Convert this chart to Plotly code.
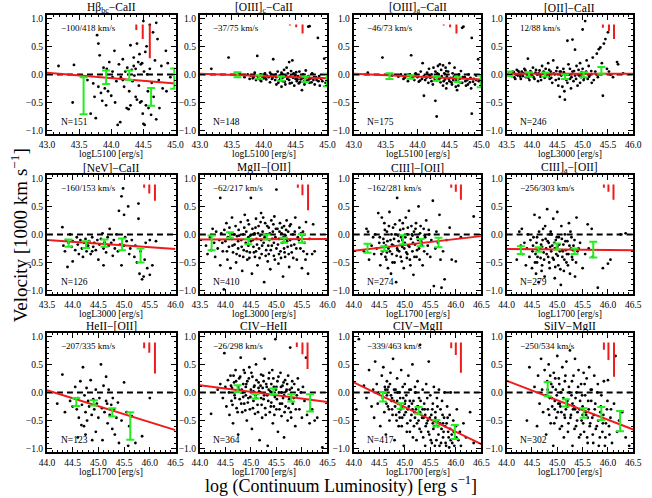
import plotly.graph_objects as go

# ---------------- data ----------------
titles = ["Hβ<sub>bc</sub>−CaII", "[OIII]<sub>c</sub>−CaII", "[OIII]<sub>a</sub>−CaII", "[OII]−CaII",
          "[NeV]−CaII", "MgII−[OII]", "CIII]−[OII]", "CIII]<sub>a</sub>−[OII]",
          "HeII−[OII]", "CIV−HeII", "CIV−MgII", "SiIV−MgII"]
xlabels = ["logL5100 [erg/s]"] * 3 + ["logL3000 [erg/s]"] * 3 + ["logL1700 [erg/s]"] * 6
stats = ["−100/418 km/s", "−37/75 km/s", "−46/73 km/s", "12/88 km/s",
         "−160/153 km/s", "−62/217 km/s", "−162/281 km/s", "−256/303 km/s",
         "−207/335 km/s", "−26/298 km/s", "−339/463 km/s", "−250/534 km/s"]
nobj = [151, 148, 175, 246, 126, 410, 274, 279, 123, 364, 417, 302]
xmin = [43.0, 43.0, 43.0, 43.5, 43.5, 43.5, 44.0, 44.0, 44.0, 44.0, 44.0, 44.0]
xmax = [45.0, 45.0, 45.0, 46.0, 46.0, 46.0, 46.5, 46.5, 46.5, 46.5, 46.5, 46.5]

# fitted line: value at left and right edge of each panel
fit_left = [0.03, 0.01, 0.01, 0.01, -0.10, -0.09, -0.29, -0.26, 0.04, 0.13, 0.18, 0.21]
fit_right = [-0.16, -0.07, -0.09, 0.01, -0.26, -0.08, -0.03, -0.28, -0.67, -0.17, -0.92, -0.66]

# binned means (green): x, y, half error
bin_x = [[43.57, 43.92, 44.28, 44.62, 44.98],
         [43.59, 43.93, 44.27, 44.65, 44.99],
         [43.56, 43.89, 44.30, 44.63, 44.99],
         [43.56, 43.94, 44.26, 44.65, 45.02, 45.37],
         [43.92, 44.26, 44.62, 44.96, 45.32],
         [43.73, 44.09, 44.45, 44.81, 45.15, 45.50],
         [44.27, 44.60, 44.96, 45.31, 45.66],
         [44.28, 44.63, 44.99, 45.34, 45.71],
         [44.57, 44.91, 45.27, 45.62],
         [44.74, 45.09, 45.44, 45.79, 46.16],
         [44.57, 44.92, 45.27, 45.62, 45.98],
         [44.81, 45.17, 45.52, 45.87, 46.24]]
bin_y = [[-0.38, -0.05, -0.015, -0.40, -0.075],
         [-0.005, -0.045, -0.075, -0.085, -0.10],
         [-0.03, -0.045, -0.075, -0.09, -0.125],
         [0.01, 0.00, 0.00, -0.04, -0.005, 0.07],
         [-0.155, -0.18, -0.155, -0.175, -0.375],
         [-0.15, -0.01, -0.125, -0.045, -0.105, -0.07],
         [-0.245, -0.25, -0.095, -0.145, -0.145],
         [-0.28, -0.27, -0.215, -0.30, -0.27],
         [-0.17, -0.185, -0.355, -0.595],
         [0.07, -0.065, 0.02, -0.095, -0.185],
         [-0.075, -0.24, -0.32, -0.545, -0.705],
         [0.06, -0.185, -0.365, -0.375, -0.51]]
bin_e = [[0.33, 0.12, 0.085, 0.16, 0.18],
         [0.045, 0.03, 0.04, 0.05, 0.11],
         [0.05, 0.03, 0.04, 0.045, 0.105],
         [0.04, 0.04, 0.035, 0.04, 0.045, 0.06],
         [0.065, 0.06, 0.065, 0.105, 0.125],
         [0.13, 0.05, 0.05, 0.045, 0.045, 0.08],
         [0.08, 0.04, 0.08, 0.065, 0.085],
         [0.07, 0.04, 0.055, 0.05, 0.14],
         [0.07, 0.045, 0.075, 0.245],
         [0.06, 0.04, 0.05, 0.065, 0.155],
         [0.085, 0.05, 0.06, 0.055, 0.125],
         [0.125, 0.065, 0.085, 0.115, 0.18]]

# red uncertainty bars at top right: x positions and lengths (hanging from y=0.89)
ebar_top = 0.89
ebar_x = [[44.39, 44.49, 44.60], [44.41, 44.51, 44.61], [44.41, 44.51, 44.61], [45.40, 45.52, 45.62],
          [45.39, 45.49, 45.60], [45.42, 45.51, 45.62], [45.91, 46.00, 46.10], [45.92, 46.01, 46.11],
          [45.89, 45.99, 46.10], [45.90, 46.01, 46.11], [45.91, 46.00, 46.10], [45.92, 46.01, 46.12]]
ebar_len = [[0.10, 0.26, 0.60], [0.02, 0.05, 0.16], [0.02, 0.05, 0.16], [0.06, 0.12, 0.26],
            [0.06, 0.16, 0.29], [0.06, 0.19, 0.46], [0.06, 0.13, 0.27], [0.06, 0.13, 0.27],
            [0.10, 0.18, 0.55], [0.08, 0.21, 0.47], [0.10, 0.22, 0.54], [0.13, 0.31, 0.61]]

p1 = [(43.18,0.15),(43.42,0.17),(43.40,-0.50),(43.63,-0.10),(43.68,-0.70),(43.72,-0.16),(43.74,-0.40),(43.76,-0.78),(43.78,0.70),(43.80,0.55),(43.80,-0.22),(43.82,0.34),(43.84,-0.33),(43.86,-0.47),(43.88,0.12),(43.90,-0.25),(43.93,0.10),(43.95,-0.30),(43.97,0.22),(44.00,-0.38),(44.02,0.05),(44.05,0.42),(44.06,-0.50),(44.08,-0.12),(44.10,-0.90),(44.12,0.18),(44.14,-0.85),(44.15,-0.05),(44.18,0.27),(44.20,-0.22),(44.22,0.05),(44.24,-0.60),(44.25,0.12),(44.27,-0.62),(44.28,-0.30),(44.30,0.52),(44.30,-0.55),(44.32,0.08),(44.33,-0.12),(44.35,0.30),(44.35,0.15),(44.36,-0.02),(44.38,0.10),(44.38,-0.40),(44.40,0.55),(44.40,-0.45),(44.42,0.22),(44.43,-0.20),(44.44,0.36),(44.45,-0.50),(44.46,0.18),(44.47,-0.48),(44.48,0.20),(44.49,-0.70),(44.50,0.95),(44.50,-0.88),(44.51,0.05),(44.52,-0.90),(44.53,0.40),(44.54,-0.55),(44.55,0.50),(44.56,0.00),(44.57,-0.30),(44.58,-0.60),(44.60,0.88),(44.60,0.10),(44.62,-0.72),(44.63,-0.15),(44.65,0.75),(44.66,-0.40),(44.68,0.25),(44.70,0.92),(44.70,-0.80),(44.72,0.63),(44.74,-0.10),(44.75,-0.60),(44.78,0.15),(44.80,-0.25),(44.85,0.42),(44.86,-0.30),(44.88,0.20),(44.92,-0.05),(44.18,-0.10),(44.02,-0.05),(43.92,-0.55)]
p2 = [(43.18,0.10),(43.45,0.30),(43.62,0.02),(43.70,-0.05),(43.75,0.00),(43.78,-0.08),(43.80,-0.02),(43.84,-0.05),(43.86,0.03),(43.88,-0.10),(43.90,0.33),(43.90,-0.03),(43.92,-0.06),(43.95,0.00),(43.96,-0.12),(43.98,-0.04),(44.00,-0.07),(44.02,0.02),(44.04,-0.09),(44.05,-0.02),(44.08,-0.05),(44.10,-0.14),(44.12,0.00),(44.14,-0.06),(44.15,0.27),(44.16,-0.03),(44.18,-0.10),(44.20,-0.05),(44.22,0.05),(44.23,-0.15),(44.25,-0.02),(44.26,-0.08),(44.28,0.03),(44.30,-0.12),(44.31,-0.05),(44.32,0.08),(44.34,-0.18),(44.35,-0.02),(44.36,0.12),(44.37,-0.08),(44.38,0.02),(44.40,-0.10),(44.40,0.22),(44.42,-0.04),(44.43,0.06),(44.44,-0.15),(44.45,0.25),(44.46,-0.06),(44.47,0.02),(44.48,-0.20),(44.50,-0.08),(44.51,0.04),(44.52,-0.12),(44.54,-0.03),(44.55,-0.16),(44.56,0.05),(44.58,-0.09),(44.60,-0.28),(44.60,-0.04),(44.62,0.00),(44.63,-0.13),(44.65,-0.06),(44.66,0.07),(44.68,-0.11),(44.70,0.85),(44.70,-0.03),(44.72,0.86),(44.72,-0.15),(44.74,-0.07),(44.76,0.02),(44.78,-0.10),(44.80,-0.18),(44.82,-0.05),(44.85,0.65),(44.86,-0.12),(44.88,-0.20),(44.90,-0.08),(44.95,0.28),(44.97,-0.15),(44.10,0.03),(44.20,-0.18),(44.30,0.00),(44.50,-0.01),(44.28,-0.22),
      (43.83,-0.07),(43.94,-0.09),(44.03,-0.04),(44.13,-0.08),(44.19,0.00),(44.24,-0.11),(44.29,-0.06),(44.33,-0.13),(44.39,-0.05),(44.41,-0.16),(44.49,-0.04),(44.53,-0.09),(44.57,-0.14),(44.61,-0.07),(44.67,-0.12),(44.71,-0.09),(44.75,-0.14),(44.79,-0.05),(44.83,-0.10),(44.87,-0.03),(44.92,-0.12),(44.64,-0.18)]
p3 = [(43.22,0.03),(43.45,0.30),(43.60,-0.02),(43.70,-0.04),(43.74,0.00),(43.78,-0.08),(43.82,-0.03),(43.85,-0.12),(43.88,0.00),(43.90,0.34),(43.92,-0.06),(43.95,-0.10),(43.97,0.02),(44.00,-0.05),(44.02,-0.13),(44.05,0.05),(44.07,-0.08),(44.08,0.20),(44.10,-0.38),(44.10,-0.03),(44.12,-0.10),(44.15,0.03),(44.17,-0.15),(44.18,0.10),(44.20,-0.06),(44.22,0.00),(44.24,-0.18),(44.25,0.12),(44.26,-0.05),(44.28,-0.47),(44.28,0.05),(44.30,-0.75),(44.30,-0.10),(44.32,0.15),(44.33,0.00),(44.34,-0.08),(44.35,0.18),(44.36,-0.14),(44.37,0.08),(44.38,-0.03),(44.40,0.16),(44.40,-0.20),(44.42,0.02),(44.43,-0.09),(44.44,0.12),(44.45,-0.25),(44.46,-0.04),(44.48,0.05),(44.50,-0.12),(44.50,0.20),(44.52,-0.06),(44.54,-0.18),(44.55,0.02),(44.56,-0.10),(44.58,0.12),(44.60,-0.05),(44.62,-0.28),(44.63,-0.12),(44.65,0.00),(44.66,-0.08),(44.68,0.06),(44.70,0.83),(44.70,-0.15),(44.72,0.85),(44.74,-0.05),(44.76,-0.20),(44.78,-0.10),(44.80,0.00),(44.82,-0.14),(44.84,-0.25),(44.85,0.65),(44.85,-0.70),(44.88,-0.08),(44.90,-0.18),(44.92,-0.02),(44.95,0.27),(44.96,-0.12),(44.60,-0.22),(44.46,-0.16),(44.22,-0.12),
      (43.80,-0.06),(43.93,-0.03),(44.04,-0.11),(44.14,-0.06),(44.19,-0.02),(44.27,-0.10),(44.31,0.02),(44.36,-0.06),(44.41,-0.12),(44.45,0.06),(44.49,-0.08),(44.53,-0.14),(44.57,-0.04),(44.61,-0.10),(44.67,-0.14),(44.71,-0.05),(44.75,-0.12),(44.79,-0.18),(44.83,-0.06),(44.87,-0.13),(44.92,-0.10),(44.64,-0.20)]
p4 = [(43.55,0.02),(43.60,-0.03),(43.62,0.05),(43.65,-0.05),(43.68,0.00),(43.70,0.08),(43.72,-0.02),(43.75,0.03),(43.78,-0.08),(43.80,0.05),(43.82,-0.03),(43.85,0.10),(43.88,-0.05),(43.90,0.00),(43.92,0.28),(43.95,-0.10),(43.97,0.06),(44.00,-0.02),(44.02,0.12),(44.05,-0.08),(44.07,0.03),(44.10,0.00),(44.12,-0.12),(44.15,0.07),(44.17,-0.04),(44.20,0.15),(44.22,0.02),(44.25,-0.06),(44.27,0.10),(44.30,-0.02),(44.32,0.20),(44.35,-0.08),(44.37,0.05),(44.40,-0.15),(44.42,0.25),(44.45,0.00),(44.47,-0.10),(44.50,0.12),(44.52,-0.20),(44.55,-0.40),(44.57,0.05),(44.60,-0.22),(44.62,0.10),(44.64,-0.30),(44.65,-0.45),(44.67,0.00),(44.70,0.60),(44.70,-0.15),(44.72,0.18),(44.75,-0.08),(44.77,-0.25),(44.80,0.62),(44.80,0.05),(44.82,-0.12),(44.85,0.44),(44.85,-0.02),(44.88,0.15),(44.90,-0.20),(44.92,0.08),(44.95,0.20),(44.97,-0.05),(45.00,0.80),(45.00,0.10),(45.02,-0.10),(45.05,0.95),(45.05,0.02),(45.08,0.25),(45.10,-0.08),(45.12,0.15),(45.15,0.00),(45.18,-0.15),(45.20,0.30),(45.25,0.05),(45.28,0.37),(45.30,-0.05),(45.32,0.45),(45.35,0.48),(45.38,0.20),(45.40,-0.38),(45.42,0.55),(45.45,0.63),(45.48,0.10),(45.50,0.75),(45.52,0.05),(45.55,0.00),(45.60,-0.05),(45.68,0.22),(45.70,0.18),(45.80,0.02),(44.55,0.05),(44.33,-0.03),(44.95,-0.15),(44.75,0.10),
      (43.58,0.00),(43.64,0.04),(43.67,-0.08),(43.73,0.06),(43.77,-0.04),(43.83,0.02),(43.87,0.07),(43.93,-0.06),(43.99,0.03),(44.03,-0.05),(44.08,0.08),(44.13,0.02),(44.18,-0.10),(44.23,0.05),(44.28,-0.03),(44.34,0.08),(44.38,-0.06),(44.43,0.02),(44.48,0.06),(44.53,-0.08),(44.58,-0.02),(44.63,0.04),(44.68,-0.10),(44.73,0.00),(44.78,-0.05),(44.83,0.06),(44.87,-0.08),(44.93,-0.02),(44.98,0.04),(45.03,-0.06),(45.07,0.05),(45.13,-0.04),(45.17,0.06),(45.22,-0.10),(45.27,0.00)]
p5 = [(43.80,0.13),(43.82,-0.20),(43.85,-0.30),(43.87,-0.10),(43.90,-0.58),(43.92,-0.15),(43.95,0.00),(43.98,-0.22),(44.00,-0.12),(44.05,-0.28),(44.08,-0.05),(44.10,-0.18),(44.12,-0.35),(44.15,-0.10),(44.18,-0.25),(44.20,-0.40),(44.22,-0.15),(44.25,-0.08),(44.27,-0.30),(44.30,-0.20),(44.32,-0.12),(44.35,-0.35),(44.38,-0.05),(44.40,-0.22),(44.42,-0.15),(44.45,-0.28),(44.48,-0.10),(44.50,-0.45),(44.52,-0.18),(44.55,-0.08),(44.58,0.02),(44.60,-0.25),(44.62,-0.14),(44.65,-0.32),(44.68,-0.05),(44.70,-0.20),(44.72,0.10),(44.75,-0.15),(44.78,-0.38),(44.80,-0.10),(44.82,-0.25),(44.85,0.00),(44.88,-0.30),(44.90,0.42),(44.92,-0.18),(44.95,0.68),(44.95,-0.55),(44.98,0.82),(45.00,0.35),(45.00,-0.20),(45.02,-0.05),(45.05,-0.12),(45.08,0.50),(45.10,-0.35),(45.12,-0.25),(45.15,-0.10),(45.20,-0.40),(45.22,-0.20),(45.25,-0.50),(45.28,0.55),(45.28,0.28),(45.30,-0.70),(45.32,-0.30),(45.35,-0.80),(45.38,-0.75),(45.40,-0.45),(45.42,-0.15),(45.45,-0.60),(45.50,-0.10),(45.55,-0.55),(45.62,-0.12),(44.60,-0.55),(44.00,-0.48),(44.38,-0.30),(45.50,-0.72)]
p6 = [(43.62,-0.20),(43.65,-0.35),(43.70,-0.05),(43.72,-0.28),(43.75,0.10),(43.78,-0.15),(43.80,-0.40),(43.82,0.05),(43.85,-0.25),(43.88,-0.10),(43.90,0.65),(43.90,-0.55),(43.92,0.02),(43.95,-0.30),(43.97,-0.98),(44.00,-0.12),(44.02,0.20),(44.04,-0.45),(44.05,-0.05),(44.07,-0.22),(44.08,0.12),(44.10,-0.60),(44.12,-0.08),(44.13,0.30),(44.15,-0.32),(44.17,0.00),(44.18,-0.18),(44.20,0.15),(44.21,-0.50),(44.23,-0.03),(44.25,-0.25),(44.26,0.08),(44.28,-0.38),(44.30,0.22),(44.31,-0.10),(44.33,-0.65),(44.35,0.00),(44.36,-0.28),(44.38,0.35),(44.40,-0.15),(44.41,0.05),(44.43,-0.45),(44.45,-0.05),(44.46,0.18),(44.48,-0.32),(44.50,0.65),(44.50,-0.12),(44.52,-0.70),(44.53,0.10),(44.55,-0.22),(44.57,0.02),(44.58,-0.40),(44.60,0.28),(44.61,-0.08),(44.63,-0.55),(44.65,0.15),(44.66,-0.25),(44.68,-0.02),(44.70,0.38),(44.71,-0.35),(44.73,0.05),(44.75,-0.15),(44.76,-0.85),(44.78,0.20),(44.80,-0.28),(44.81,0.00),(44.83,-0.48),(44.85,0.12),(44.86,-0.10),(44.88,-0.62),(44.90,0.25),(44.91,-0.20),(44.93,0.05),(44.95,-0.38),(44.96,0.32),(44.98,-0.05),(45.00,0.80),(45.00,-0.25),(45.02,0.10),(45.04,-0.52),(45.05,-0.08),(45.07,0.20),(45.08,-0.30),(45.10,0.02),(45.12,-0.15),(45.13,-0.75),(45.15,0.15),(45.17,-0.40),(45.18,-0.02),(45.20,0.25),(45.22,-0.22),(45.23,0.05),(45.25,-0.58),(45.27,-0.10),(45.28,0.18),(45.30,-0.32),(45.32,0.00),(45.35,-0.18),(45.37,0.30),(45.40,-0.45),(45.42,-0.05),(45.45,0.12),(45.47,-0.25),(45.50,-0.60),(45.52,0.05),(45.55,-0.15),(45.58,0.22),(45.60,-0.35),(45.62,-0.70),(45.65,-0.08),(45.70,-0.35),(45.72,0.18),(45.75,-0.30),(44.35,-0.40),(44.60,-0.30),(44.85,-0.35),(45.05,-0.35),(44.45,-0.20),(44.70,-0.10),(44.95,-0.15),(45.15,-0.25),(44.25,-0.12),(44.55,0.00),
      (44.22,-0.35),(44.27,-0.02),(44.32,-0.22),(44.37,0.12),(44.42,-0.30),(44.44,0.25),(44.47,-0.42),(44.49,-0.02),(44.54,-0.10),(44.56,-0.32),(44.59,0.12),(44.62,-0.18),(44.64,0.02),(44.67,-0.42),(44.69,0.22),(44.72,-0.20),(44.74,0.30),(44.77,-0.05),(44.79,-0.38),(44.82,0.15),(44.84,-0.20),(44.87,0.02),(44.89,-0.28),(44.92,-0.08),(44.94,0.18),(44.97,-0.45),(44.99,0.10),(45.03,-0.18),(45.06,0.05),(45.09,-0.42),(45.11,0.12),(45.14,-0.05),(45.16,-0.32),(45.19,0.08),(45.21,-0.12),(45.24,-0.35),(45.26,0.15),(45.29,-0.20),(45.33,-0.42),(45.36,0.05),(45.39,-0.25),(45.44,-0.10),(45.48,0.02),(45.53,-0.30),(45.57,-0.45),(44.14,-0.20),(44.09,0.02),(44.03,-0.30),(43.98,0.08),(43.94,-0.15)]
p7 = [(44.20,-0.30),(44.25,0.10),(44.28,0.05),(44.30,-0.45),(44.35,-0.20),(44.38,-0.05),(44.40,-0.35),(44.42,0.00),(44.45,-0.25),(44.48,0.38),(44.50,-0.15),(44.52,-0.55),(44.55,0.30),(44.57,-0.30),(44.58,-0.08),(44.60,0.20),(44.62,-0.40),(44.63,-0.20),(44.65,0.05),(44.67,-0.60),(44.68,-0.25),(44.70,0.40),(44.72,-0.10),(44.73,-0.70),(44.75,-0.35),(44.77,0.12),(44.78,-0.20),(44.80,-0.50),(44.82,0.00),(44.83,-0.85),(44.85,0.65),(44.86,-0.28),(44.88,-0.12),(44.90,0.25),(44.92,-0.40),(44.93,-0.05),(44.95,-0.22),(44.97,0.10),(44.98,-0.60),(45.00,-0.15),(45.02,0.30),(45.03,-0.32),(45.05,0.00),(45.07,-0.20),(45.08,0.42),(45.10,-0.45),(45.12,-0.08),(45.13,0.15),(45.15,-0.30),(45.17,-0.72),(45.18,0.05),(45.20,-0.18),(45.22,0.20),(45.23,-0.40),(45.25,-0.05),(45.27,0.50),(45.28,-0.25),(45.30,0.02),(45.32,-0.12),(45.35,-0.55),(45.37,0.10),(45.38,-0.30),(45.40,-0.05),(45.42,0.25),(45.45,-0.20),(45.47,0.08),(45.50,-0.40),(45.52,-0.10),(45.55,0.60),(45.57,-0.92),(45.60,-0.25),(45.62,0.05),(45.65,-0.15),(45.68,0.35),(45.70,-0.45),(45.72,-0.95),(45.75,-0.30),(45.78,-0.80),(45.82,-0.10),(45.88,0.12),(45.92,-0.45),(46.00,-0.48),(46.10,-0.05),(46.35,0.32),(44.75,-0.18),(45.05,-0.35),(44.95,-0.10),(45.15,-0.02),(44.65,-0.32),(44.85,-0.25),
      (44.51,-0.05),(44.54,-0.35),(44.59,-0.15),(44.61,0.08),(44.64,-0.45),(44.66,-0.12),(44.69,0.15),(44.71,-0.30),(44.74,0.00),(44.76,-0.50),(44.79,-0.08),(44.81,0.18),(44.84,-0.38),(44.87,-0.02),(44.89,-0.30),(44.91,0.08),(44.94,-0.48),(44.96,0.20),(44.99,-0.25),(45.01,-0.05),(45.04,-0.42),(45.06,0.12),(45.09,-0.22),(45.11,-0.55),(45.14,0.00),(45.16,-0.15),(45.19,-0.40),(45.21,0.10),(45.24,-0.28),(45.26,-0.10),(45.29,-0.45),(45.31,0.15),(45.34,-0.20),(45.39,-0.02),(45.44,-0.35),(45.48,0.00)]
p8 = [(44.20,-0.45),(44.25,0.05),(44.28,-0.20),(44.30,0.10),(44.32,-0.35),(44.35,-0.15),(44.38,-0.55),(44.40,-0.25),(44.42,0.00),(44.45,-0.40),(44.47,-0.10),(44.50,-0.60),(44.52,-0.20),(44.55,0.35),(44.57,-0.35),(44.58,-0.70),(44.60,-0.05),(44.62,-0.28),(44.63,-0.85),(44.65,0.30),(44.67,-0.42),(44.68,-0.18),(44.70,-0.55),(44.72,0.10),(44.73,-0.32),(44.75,-0.75),(44.77,-0.08),(44.78,-0.25),(44.80,0.45),(44.82,-0.40),(44.83,-0.15),(44.85,-0.60),(44.87,0.05),(44.88,-0.30),(44.90,-0.20),(44.92,0.28),(44.93,-0.45),(44.95,-0.78),(44.97,-0.10),(44.98,-0.35),(45.00,0.40),(45.00,-0.22),(45.02,-0.55),(45.03,-0.05),(45.05,-0.30),(45.07,-0.90),(45.08,0.15),(45.10,-0.40),(45.12,-0.18),(45.13,-0.65),(45.15,0.00),(45.17,-0.28),(45.18,-0.50),(45.20,-0.12),(45.22,-0.35),(45.23,0.20),(45.25,-0.70),(45.27,-0.25),(45.28,-0.05),(45.30,-0.45),(45.32,-0.20),(45.35,-0.75),(45.38,0.30),(45.40,-0.30),(45.45,-0.15),(45.50,-0.60),(45.55,-0.35),(45.60,0.18),(45.62,-0.25),(45.68,0.10),(45.70,-0.40),(45.80,-0.95),(45.90,-0.60),(46.00,-0.52),(46.05,-0.45),(46.25,0.00),(46.35,0.02),(44.70,-0.22),(44.95,-0.25),(45.10,-0.28),(44.60,-0.50),(44.85,0.00),
      (44.51,-0.30),(44.53,-0.05),(44.56,-0.50),(44.59,-0.15),(44.61,-0.40),(44.64,0.05),(44.66,-0.25),(44.69,-0.65),(44.71,-0.10),(44.74,-0.45),(44.76,0.15),(44.79,-0.35),(44.81,-0.12),(44.84,-0.50),(44.86,-0.22),(44.89,0.00),(44.91,-0.42),(44.94,-0.15),(44.96,-0.58),(44.99,-0.05),(45.01,-0.38),(45.04,-0.18),(45.06,-0.62),(45.09,-0.08),(45.11,-0.30),(45.14,-0.45),(45.16,-0.12),(45.19,-0.35),(45.21,-0.55),(45.24,-0.20),(45.26,0.05),(45.29,-0.40),(45.31,-0.28),(45.34,-0.10),(45.37,-0.50),(45.42,-0.25)]
p9 = [(44.20,-0.20),(44.30,0.32),(44.35,-0.35),(44.45,-0.15),(44.50,-0.25),(44.55,0.10),(44.58,-0.30),(44.60,-0.10),(44.62,-0.45),(44.65,0.20),(44.67,-0.58),(44.68,-0.22),(44.70,0.45),(44.72,-0.60),(44.73,-0.05),(44.75,-0.35),(44.77,0.08),(44.78,-0.50),(44.80,-0.15),(44.82,-0.25),(44.85,0.22),(44.87,-0.40),(44.88,-0.85),(44.90,-0.12),(44.92,-0.30),(44.95,0.05),(44.97,-0.20),(45.00,-0.45),(45.02,-0.10),(45.05,0.50),(45.07,-0.28),(45.08,-0.85),(45.10,0.12),(45.12,-0.35),(45.15,0.28),(45.17,-0.20),(45.18,-0.55),(45.20,0.05),(45.22,-0.40),(45.25,-0.22),(45.27,-0.65),(45.28,-0.10),(45.30,-0.30),(45.32,-0.75),(45.35,-0.45),(45.38,-0.18),(45.40,-0.90),(45.45,-0.50),(45.50,0.18),(45.55,-0.35),(45.58,-0.95),(45.60,-0.60),(45.65,-0.42),(45.72,-0.90),(45.85,-0.78),(46.00,-0.10),(44.95,-0.70),(44.75,-0.75),(44.60,-0.80),(45.15,-0.15)]
p10 = [(44.22,-0.38),(44.35,0.05),(44.40,0.15),(44.45,-0.10),(44.48,0.70),(44.50,0.10),(44.52,-0.25),(44.55,0.22),(44.57,0.00),(44.58,-0.40),(44.60,0.30),(44.62,-0.15),(44.63,0.08),(44.65,-0.55),(44.67,0.18),(44.68,-0.05),(44.70,0.40),(44.72,-0.28),(44.73,0.02),(44.75,-0.75),(44.77,0.25),(44.78,-0.12),(44.80,0.62),(44.82,0.05),(44.83,-0.35),(44.85,0.15),(44.87,-0.20),(44.88,0.35),(44.90,-0.05),(44.92,-0.50),(44.93,0.20),(44.95,-0.10),(44.97,0.45),(44.98,-0.30),(45.00,0.05),(45.02,-0.65),(45.03,0.28),(45.05,-0.15),(45.07,0.12),(45.08,-0.38),(45.10,0.50),(45.12,-0.02),(45.13,-0.22),(45.15,0.18),(45.17,-0.85),(45.18,0.00),(45.20,0.32),(45.22,-0.45),(45.23,0.08),(45.25,-0.12),(45.27,0.60),(45.28,-0.28),(45.30,0.15),(45.32,-0.05),(45.33,-0.95),(45.35,0.25),(45.37,-0.35),(45.38,0.02),(45.40,-0.18),(45.42,0.40),(45.43,-0.55),(45.45,0.10),(45.47,-0.08),(45.48,0.95),(45.50,-0.30),(45.52,0.20),(45.53,-0.70),(45.55,0.00),(45.57,-0.20),(45.58,0.35),(45.60,-0.42),(45.62,0.12),(45.63,-0.10),(45.65,-0.80),(45.67,0.22),(45.68,-0.25),(45.70,0.05),(45.72,-0.50),(45.73,0.30),(45.75,-0.12),(45.77,0.80),(45.78,-0.35),(45.80,0.08),(45.82,-0.20),(45.85,0.15),(45.87,-0.60),(45.90,-0.05),(45.92,0.25),(45.95,-0.30),(45.98,0.00),(46.00,-0.45),(46.02,0.10),(46.05,-0.15),(46.08,0.62),(46.10,-0.40),(46.15,-0.55),(46.20,-0.30),(46.25,-0.50),(46.30,-0.45),(46.40,-0.98),(44.90,0.10),(45.05,0.02),(45.20,-0.10),(45.35,0.05),(45.50,0.10),(45.65,-0.05),(44.75,0.10),(45.15,0.08),(45.45,-0.25),(45.60,0.00),(44.85,-0.08),(45.25,0.20),(45.40,0.15),(45.10,-0.10),
       (44.61,0.12),(44.64,-0.22),(44.66,0.30),(44.69,-0.10),(44.71,0.20),(44.74,-0.35),(44.76,0.05),(44.79,0.28),(44.81,-0.20),(44.84,0.00),(44.86,0.40),(44.89,-0.32),(44.91,0.15),(44.94,-0.18),(44.96,0.25),(44.99,-0.08),(45.01,0.35),(45.04,-0.28),(45.06,0.10),(45.09,-0.05),(45.11,0.22),(45.14,-0.35),(45.16,0.02),(45.19,0.12),(45.21,-0.22),(45.24,0.30),(45.26,-0.05),(45.29,-0.40),(45.31,0.10),(45.34,-0.15),(45.36,0.35),(45.39,-0.25),(45.41,0.00),(45.44,0.25),(45.46,-0.40),(45.49,0.05),(45.51,-0.12),(45.54,0.28),(45.56,-0.30),(45.59,0.10),(45.61,-0.20),(45.64,0.18),(45.66,-0.35),(45.69,0.02),(45.71,0.15),(45.74,-0.28),(45.76,0.05),(45.79,-0.45),(45.81,0.20),(45.84,-0.10),(45.88,-0.30),(45.93,0.05)]
p11 = [(44.05,-0.30),(44.10,0.95),(44.20,0.12),(44.25,-0.10),(44.30,0.40),(44.35,-0.25),(44.38,0.05),(44.40,-0.45),(44.42,0.55),(44.45,0.15),(44.47,-0.20),(44.50,0.00),(44.52,-0.60),(44.55,0.30),(44.57,-0.10),(44.58,0.45),(44.60,-0.35),(44.62,0.05),(44.63,-0.75),(44.65,0.20),(44.67,-0.25),(44.68,0.10),(44.70,-0.50),(44.72,0.35),(44.73,-0.05),(44.75,-0.30),(44.77,0.60),(44.78,-0.15),(44.80,-0.85),(44.82,0.05),(44.83,-0.40),(44.85,0.25),(44.87,-0.20),(44.88,-0.60),(44.90,0.00),(44.92,-0.30),(44.93,0.40),(44.95,-0.45),(44.97,-0.10),(44.98,-0.95),(45.00,0.15),(45.02,-0.35),(45.03,-0.05),(45.05,-0.55),(45.07,0.30),(45.08,-0.25),(45.10,-0.70),(45.12,0.05),(45.13,-0.40),(45.15,0.50),(45.17,-0.15),(45.18,-0.60),(45.20,0.10),(45.22,-0.30),(45.23,-0.85),(45.25,0.20),(45.27,-0.50),(45.28,-0.10),(45.30,0.85),(45.30,-0.35),(45.32,-0.70),(45.35,0.05),(45.37,-0.45),(45.38,-0.20),(45.40,-0.95),(45.42,0.15),(45.43,-0.55),(45.45,-0.30),(45.47,0.55),(45.48,-0.75),(45.50,-0.05),(45.52,-0.40),(45.53,-0.90),(45.55,-0.20),(45.57,0.10),(45.58,-0.60),(45.60,-0.35),(45.62,-0.85),(45.63,-0.10),(45.65,-0.50),(45.67,0.05),(45.68,-0.95),(45.70,-0.30),(45.72,-0.65),(45.73,-0.15),(45.75,-0.80),(45.77,-0.45),(45.78,0.00),(45.80,-0.90),(45.82,-0.55),(45.83,-0.25),(45.85,-0.70),(45.87,-0.98),(45.88,-0.40),(45.90,0.00),(45.92,-0.75),(45.95,-0.50),(45.97,-0.95),(46.00,-0.60),(46.02,-0.30),(46.05,-0.85),(46.08,-0.70),(46.10,-0.95),(46.15,-0.55),(46.20,-0.80),(46.28,-0.35),(46.35,-0.90),(44.65,-0.05),(44.85,-0.15),(45.00,-0.20),(45.15,-0.30),(45.25,-0.25),(45.35,-0.30),(45.45,-0.50),(45.55,-0.55),(45.65,-0.60),(44.75,-0.10),(44.95,-0.25),(45.10,-0.15),(45.40,-0.40),(45.60,-0.45),(45.75,-0.55),(45.90,-0.85),(44.90,-0.45),(45.20,-0.45),
       (44.61,0.10),(44.64,-0.20),(44.66,0.05),(44.69,-0.30),(44.71,0.15),(44.74,-0.15),(44.76,-0.40),(44.79,0.05),(44.81,-0.25),(44.84,-0.50),(44.86,0.00),(44.89,-0.35),(44.91,-0.10),(44.94,-0.60),(44.96,0.10),(44.99,-0.40),(45.01,-0.15),(45.04,-0.70),(45.06,-0.30),(45.09,0.05),(45.11,-0.50),(45.14,-0.20),(45.16,-0.80),(45.19,-0.35),(45.21,0.00),(45.24,-0.55),(45.26,-0.25),(45.29,-0.65),(45.31,-0.15),(45.34,-0.45),(45.36,-0.80),(45.39,-0.30),(45.41,-0.60),(45.44,-0.10),(45.46,-0.70),(45.49,-0.45),(45.51,-0.85),(45.54,-0.30),(45.56,-0.65),(45.59,-0.95),(45.61,-0.50),(45.64,-0.25),(45.66,-0.75),(45.69,-0.55),(45.71,-0.90),(45.74,-0.40),(45.76,-0.70),(45.79,-0.60),(45.81,-0.95),(45.84,-0.45),(45.86,-0.80),(45.89,-0.65),(45.93,-0.90),(45.96,-0.70),(46.01,-0.80)]
p12 = [(44.40,-0.50),(44.45,0.45),(44.55,0.10),(44.60,-0.60),(44.62,0.30),(44.65,-0.20),(44.68,0.60),(44.70,0.05),(44.72,-0.35),(44.75,0.40),(44.77,-0.05),(44.78,-0.75),(44.80,0.20),(44.82,-0.30),(44.83,0.50),(44.85,-0.10),(44.87,-0.55),(44.88,0.15),(44.90,-0.25),(44.92,-0.95),(44.93,0.35),(44.95,-0.15),(44.97,0.05),(44.98,-0.45),(45.00,0.65),(45.02,-0.20),(45.03,0.25),(45.05,-0.65),(45.07,0.00),(45.08,-0.35),(45.10,0.45),(45.12,-0.10),(45.13,-0.80),(45.15,0.20),(45.17,-0.30),(45.18,0.55),(45.20,-0.15),(45.22,-0.55),(45.23,0.10),(45.25,0.75),(45.27,-0.40),(45.28,-0.05),(45.30,-0.95),(45.32,0.30),(45.33,-0.25),(45.35,0.60),(45.37,-0.60),(45.38,0.00),(45.40,-0.35),(45.42,0.40),(45.43,-0.80),(45.45,-0.15),(45.47,0.15),(45.48,-0.50),(45.50,-0.25),(45.52,0.35),(45.53,-0.70),(45.55,-0.05),(45.57,-0.40),(45.58,0.25),(45.60,-0.90),(45.62,-0.30),(45.63,0.45),(45.65,-0.55),(45.67,-0.15),(45.68,0.05),(45.70,-0.75),(45.72,-0.40),(45.73,0.30),(45.75,-0.20),(45.78,-0.60),(45.80,0.15),(45.82,-0.95),(45.85,-0.35),(45.87,-0.05),(45.90,-0.55),(45.92,0.20),(45.95,-0.80),(45.98,-0.30),(46.00,0.22),(46.02,-0.60),(46.05,-0.45),(46.08,-0.90),(46.12,-0.20),(46.15,0.65),(46.18,-0.70),(46.22,-0.50),(46.28,-0.35),(46.35,-0.80),(46.42,-0.95),(45.05,-0.20),(45.20,-0.25),(45.35,-0.30),(45.50,-0.40),(45.15,-0.45),(45.60,-0.45),(44.95,-0.30),(45.30,-0.20),
       (44.81,0.05),(44.84,-0.40),(44.86,0.30),(44.89,-0.10),(44.91,0.10),(44.94,-0.55),(44.96,0.25),(44.99,-0.05),(45.01,-0.35),(45.04,0.15),(45.06,-0.25),(45.09,-0.60),(45.11,0.05),(45.14,-0.40),(45.16,0.30),(45.19,-0.20),(45.21,-0.70),(45.24,0.00),(45.26,-0.45),(45.29,0.20),(45.31,-0.30),(45.34,-0.65),(45.36,-0.10),(45.39,-0.50),(45.41,0.10),(45.44,-0.30),(45.46,-0.75),(45.49,-0.05),(45.51,-0.55),(45.54,0.15),(45.56,-0.35),(45.59,-0.80),(45.61,-0.15),(45.64,-0.60),(45.66,0.05),(45.69,-0.45),(45.71,-0.90),(45.74,-0.30),(45.76,-0.65),(45.79,0.00),(45.81,-0.50),(45.84,-0.80),(45.86,-0.25),(45.89,-0.70),(45.91,-0.40),(45.94,-0.95),(45.96,-0.55),(45.99,-0.15),(46.03,-0.75),(46.06,-0.30)]
points = [p1, p2, p3, p4, p5, p6, p7, p8, p9, p10, p11, p12]

# ---------------- layout ----------------
W, H = 652, 498
cols = [(40, 172), (197, 328), (355, 486), (512, 642)]
rows = [(14, 134), (175, 295), (334, 454)]
FONT = "Liberation Serif, Times New Roman, serif"
GREEN = "#22ee22"
RED = "#ee1c1c"

fig = go.Figure()
layout = dict(width=W, height=H, margin=dict(l=0, r=0, t=0, b=0),
              paper_bgcolor="white", plot_bgcolor="white", showlegend=False,
              font=dict(family=FONT, color="black"))
annotations = []

for i in range(12):
    r, c = divmod(i, 4)
    sfx = "" if i == 0 else str(i + 1)
    xa, ya = "x" + sfx, "y" + sfx
    x0p, x1p = cols[c]
    y0p, y1p = rows[r]
    eps = 1e-6
    axis_common = dict(showline=True, linewidth=2, linecolor="black", mirror="allticks",
                       ticks="inside", ticklen=5, tickwidth=1, tickcolor="black",
                       showgrid=False, zeroline=False, tickfont=dict(size=9.5, family=FONT),
                       tickformat=".1f")
    layout["xaxis" + sfx] = dict(axis_common, domain=[x0p / W, x1p / W], anchor=ya,
                                 range=[xmin[i] - eps, xmax[i] + eps],
                                 tickmode="linear", tick0=xmin[i], dtick=0.5,
                                 minor=dict(dtick=0.1, ticklen=2, ticks="inside", tickcolor="black"))
    layout["yaxis" + sfx] = dict(axis_common, domain=[1 - y1p / H, 1 - y0p / H], anchor=xa,
                                 range=[-1.065, 1.06], tickmode="linear", tick0=-1.0, dtick=0.5,
                                 minor=dict(dtick=0.1, ticklen=2, ticks="inside", tickcolor="black"))

    px = [p[0] for p in points[i]]
    py = [p[1] for p in points[i]]
    fig.add_trace(go.Scatter(x=px, y=py, mode="markers", xaxis=xa, yaxis=ya,
                             marker=dict(color="black", size=2.8, symbol="circle")))
    # zero reference
    fig.add_trace(go.Scatter(x=[xmin[i], xmax[i]], y=[0, 0], mode="lines", xaxis=xa, yaxis=ya,
                             line=dict(color="black", width=2, dash="6px,4px")))
    # fitted relation
    fig.add_trace(go.Scatter(x=[xmin[i], xmax[i]], y=[fit_left[i], fit_right[i]], mode="lines",
                             xaxis=xa, yaxis=ya, line=dict(color=RED, width=2)))
    # binned means
    fig.add_trace(go.Scatter(x=bin_x[i], y=bin_y[i], mode="markers", xaxis=xa, yaxis=ya,
                             marker=dict(size=1, color=GREEN, opacity=0),
                             error_y=dict(type="data", array=bin_e[i], color=GREEN,
                                          thickness=2, width=4)))
    # red uncertainty bars
    bx, by = [], []
    for xv, lv in zip(ebar_x[i], ebar_len[i]):
        bx += [xv, xv, None]
        by += [ebar_top, ebar_top - lv, None]
    fig.add_trace(go.Scatter(x=bx, y=by, mode="lines", xaxis=xa, yaxis=ya,
                             line=dict(color=RED, width=2)))

    # texts
    annotations.append(dict(text=stats[i], xref=xa + " domain", yref=ya + " domain",
                            x=0.09, y=0.89, xanchor="left", yanchor="middle", showarrow=False,
                            font=dict(size=9, family=FONT)))
    annotations.append(dict(text="N=%d" % nobj[i], xref=xa + " domain", yref=ya + " domain",
                            x=0.09, y=0.1, xanchor="left", yanchor="middle", showarrow=False,
                            font=dict(size=9.5, family=FONT)))
    cx = (x0p + x1p) / 2 / W
    annotations.append(dict(text=titles[i], xref="paper", yref="paper", x=cx,
                            y=1 - (y0p - 7) / H, xanchor="center", yanchor="middle",
                            showarrow=False, font=dict(size=11.5, family=FONT)))
    annotations.append(dict(text=xlabels[i], xref="paper", yref="paper", x=cx,
                            y=1 - (y1p + 20) / H, xanchor="center", yanchor="middle",
                            showarrow=False, font=dict(size=9.5, family=FONT)))

annotations.append(dict(text="Velocity [1000 km s<sup>−1</sup>]", xref="paper", yref="paper",
                        x=11 / W, y=1 - 236 / H, textangle=-90, xanchor="center", yanchor="middle",
                        showarrow=False, font=dict(size=19, family=FONT)))
annotations.append(dict(text="log (Continuum Luminosity) [erg s<sup>−1</sup>]", xref="paper",
                        yref="paper", x=342 / W, y=1 - 487 / H, xanchor="center", yanchor="middle",
                        showarrow=False, font=dict(size=18, family=FONT)))
layout["annotations"] = annotations
fig.update_layout(**layout)
fig.write_html("out.html", config={"displayModeBar": False},
               post_script="document.body.style.margin='0';document.body.style.overflow='hidden';")
